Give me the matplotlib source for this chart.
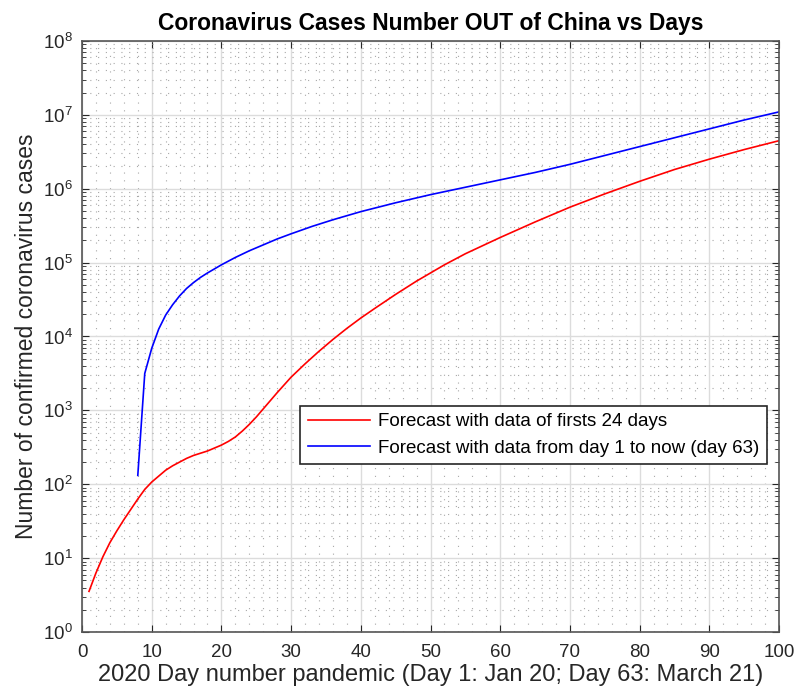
import numpy as np
import matplotlib.pyplot as plt
from matplotlib.ticker import MultipleLocator, LogLocator

plt.rcParams['font.family'] = ['Liberation Sans', 'DejaVu Sans']
plt.rcParams['mathtext.default'] = 'regular'

# red: forecast with data of first 24 days (log10 of cases)
red_day = [1, 2, 3, 4, 5, 6, 7, 8, 9, 10, 11, 12, 13, 14, 15, 16, 17, 18, 19, 20,
           21, 22, 23, 24, 25, 26, 28, 30, 32, 34, 36, 38, 40, 42, 45, 48, 50, 52,
           55, 60, 65, 70, 75, 80, 85, 90, 95, 100]
red_log = [0.55, 0.80, 1.02, 1.21, 1.37, 1.52, 1.66, 1.80, 1.93, 2.03, 2.11, 2.19,
           2.25, 2.30, 2.35, 2.39, 2.42, 2.45, 2.49, 2.53, 2.58, 2.64, 2.72, 2.81,
           2.91, 3.02, 3.24, 3.45, 3.63, 3.80, 3.96, 4.11, 4.25, 4.38, 4.57, 4.75,
           4.86, 4.97, 5.12, 5.34, 5.55, 5.75, 5.93, 6.10, 6.26, 6.40, 6.53, 6.65]

# blue: forecast with data from day 1 to day 63
blue_day = [8, 9, 10, 11, 12, 13, 14, 15, 16, 17, 18, 20, 22, 24, 26, 28, 30, 33,
            36, 40, 45, 50, 55, 60, 65, 70, 75, 80, 85, 90, 95, 100]
blue_log = [2.12, 3.50, 3.84, 4.10, 4.29, 4.43, 4.55, 4.65, 4.73, 4.80, 4.86, 4.97,
            5.07, 5.16, 5.24, 5.32, 5.39, 5.49, 5.58, 5.69, 5.81, 5.92, 6.02, 6.12,
            6.22, 6.33, 6.45, 6.57, 6.69, 6.81, 6.93, 7.04]

red_cases = np.power(10.0, red_log)
blue_cases = np.power(10.0, blue_log)

fig = plt.figure(figsize=(7.98, 6.92), dpi=100)
ax = fig.add_axes([0.1028, 0.0867, 0.8734, 0.8541])

ax.plot(red_day, red_cases, color='#ff0000', lw=1.2,
        label='Forecast with data of firsts 24 days')
ax.plot(blue_day, blue_cases, color='#0000ff', lw=1.2,
        label='Forecast with data from day 1 to now (day 63)')

ax.set_yscale('log')
ax.set_xlim(0, 100)
ax.set_ylim(1, 1e8)
ax.xaxis.set_major_locator(MultipleLocator(10))
ax.xaxis.set_minor_locator(MultipleLocator(2))
ax.yaxis.set_major_locator(LogLocator(base=10, numticks=20))
ax.yaxis.set_minor_locator(LogLocator(base=10, subs=np.arange(2, 10), numticks=20))

ax.grid(which='major', color='#dcdcdc', lw=1.0, ls='-')
ax.grid(which='minor', color='#a8a8a8', lw=0.8, ls=(0, (1, 6)))
ax.set_axisbelow(True)

ax.tick_params(which='both', direction='in', top=True, right=True,
               colors='#262626', labelsize=13.5)
ax.tick_params(which='major', length=5, width=0.8)
ax.tick_params(which='minor', length=3, width=0.6)
ax.tick_params(axis='x', which='minor', length=0)
ax.tick_params(axis='x', which='major', pad=8.5)
ax.tick_params(axis='y', which='major', pad=6.5)
for s in ax.spines.values():
    s.set_color('#555555')
    s.set_linewidth(1.2)

ax.set_title('Coronavirus Cases Number OUT of China vs Days',
             fontsize=16.5, fontweight='bold', pad=8)
ax.set_xlabel('2020 Day number pandemic (Day 1: Jan 20; Day 63: March 21)',
              fontsize=17, color='#262626', labelpad=2)
ax.set_ylabel('Number of confirmed coronavirus cases',
              fontsize=16.5, color='#262626', labelpad=4)

leg = ax.legend(loc='lower left', bbox_to_anchor=(0.313, 0.284),
                borderaxespad=0, fontsize=13.5, fancybox=False,
                framealpha=1, edgecolor='#262626', handlelength=3.3,
                handletextpad=0.45, borderpad=0.4, labelspacing=0.5)
leg.get_frame().set_linewidth(1.2)

plt.savefig('out.png', dpi=100)
plt.close()
